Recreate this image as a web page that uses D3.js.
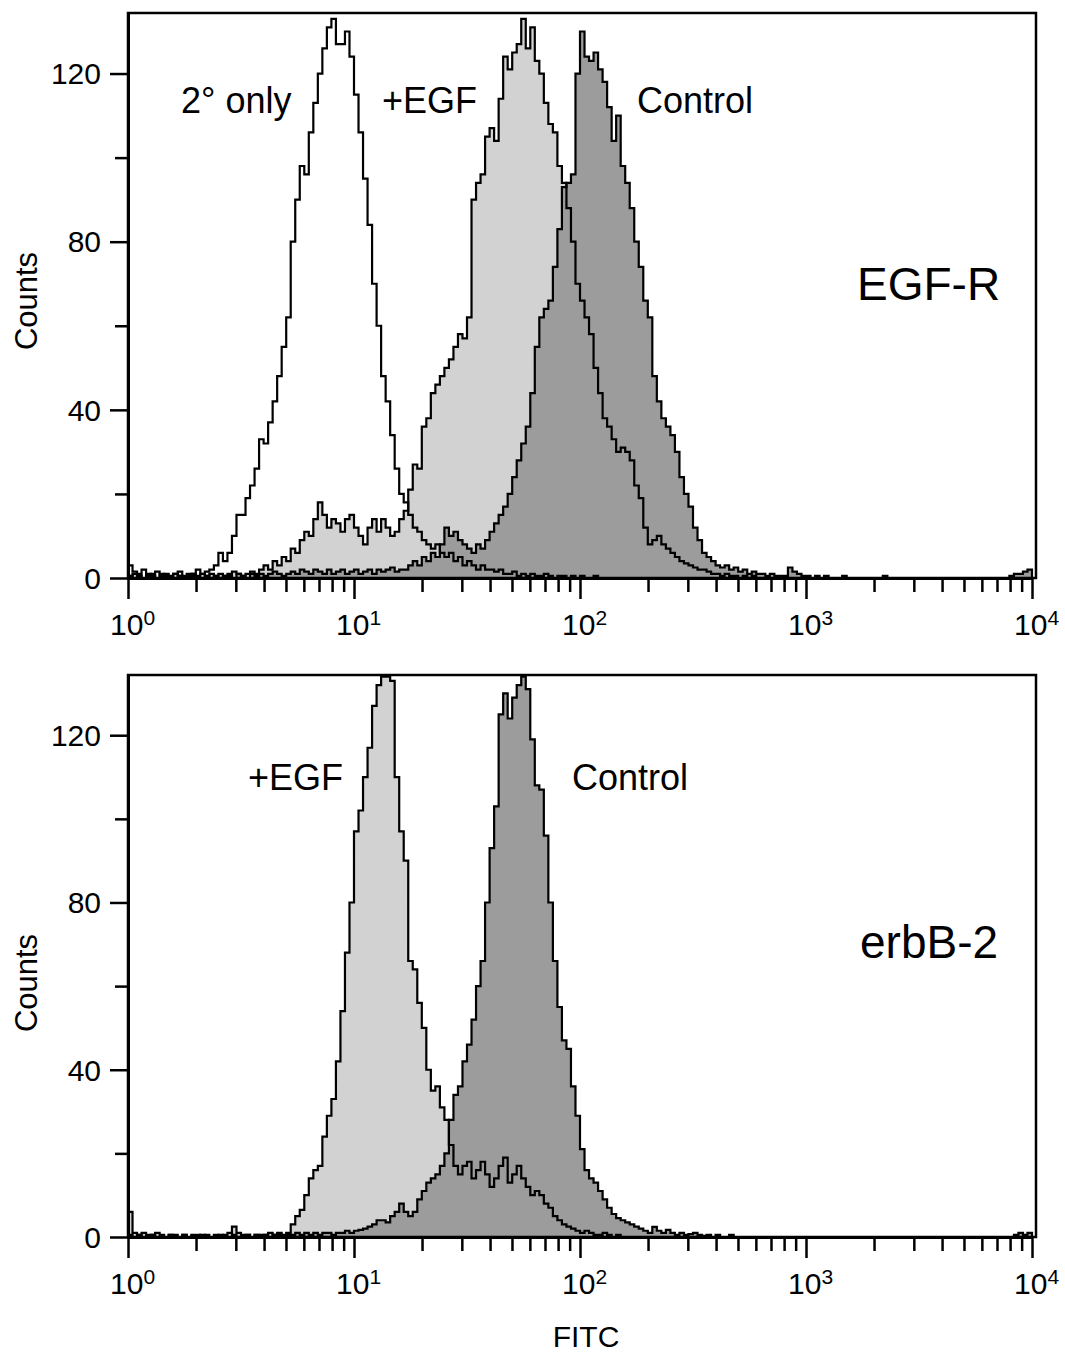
<!DOCTYPE html>
<html><head><meta charset="utf-8">
<script src="https://cdn.jsdelivr.net/npm/d3@7"></script>
<style>body{margin:0;background:#fff}</style>
</head><body>
<svg id="c" width="1065" height="1355"></svg>
<script>
// ---------- DATA ----------
const binStep = 0.02;               // width of one histogram channel, in decades of FITC
const xDecades = [0, 1, 2, 3, 4];   // 10^0 … 10^4
const yTickValues = [0, 20, 40, 60, 80, 100, 120];
const yTickLabels = [0, 40, 80, 120];

// EGF-R panel
const egfrSecondary = [
  3,1.5,1,2,0.5,1,1.5,0.5,1,0.5,
  1,1.5,0.5,1,1,2,1,1.5,2,3,
  6,4,6,10,15,15,19,22,26,33,
  32,37,42,48,55,62,80,90,98,96,
  106,113,120,126,131,133,127,127,130,124,
  115,106,95,84,70,60,48,42,34,26,
  20,18,15,12,11,9,8,7,8,6,
  5,6,4,5,3,4,3,2,3,2,
  2,1.5,2,1,1,1.5,0.5,1,0.5,1,
  0.5,0.5,1,0.5,0,0.5,0.5,0,0.5,0,
  0.5,0,0,0.5,0,0,0,0,0,0
];
const egfrEGF = [
  0.5,1,0.5,0,1,0.5,0,1,0.5,0,
  1,0.5,0,0.5,1,0.5,1,0.5,1,0.5,
  1,0.5,1,1.5,1,0.5,1,1.5,1,2,
  3,2,4,3,5,4,7,6,9,11,
  10,14,18,15,12,14,13,11,14,15,
  12,10,8,12,14,11,14,12,10,11,
  14,16,21,27,26,36,38,44,46,48,
  50,52,55,58,57,62,90,94,96,105,
  107,104,114,124,121,125,127,133,126,131,
  123,120,113,108,106,98,94,88,80,70,
  66,62,58,50,44,38,36,33,30,31,
  30,28,22,19,12,8,9,10,8,7,
  6,5,4,3.5,3,2.5,2,2,1.5,1,
  1,0.5,1,0.5,0.5,0,0.5,0,0.5,0
];
const egfrControl = [
  0.5,0,0.5,0,0,0.5,0,0,0.5,0,
  0,0.5,0,0,0.5,0,0,0.5,0,0.5,
  0,0.5,0.5,0,1,0.5,0,1,0.5,1,
  0.5,1,1.5,1,0.5,1,1.5,1,2,1.5,
  1,2,1.5,1,2,1,1.5,2,1,1.5,
  2,1,1.5,2,1,2,1.5,2,2.5,1.5,
  2,2,3,4,3,5,4,6,5,8,
  12,10,11,9,8,7,6,8,7,9,
  11,13,15,17,20,24,28,32,36,44,
  55,62,64,66,74,83,93,94,96,120,
  130,124,123,125,121,118,112,104,110,98,
  94,88,80,74,66,62,48,42,38,36,
  34,30,24,20,17,12,9,6,5,4,
  3,2.5,3,2,2.5,1.5,2,1,1.5,1,
  1,0.5,1,0.5,0.5,0.5,2.5,1.5,1,0.5,
  0.5,0,0.5,0,0.5,0,0,0,0.5,0,
  0,0,0,0,0,0,0,0.5,0,0,
  0,0,0,0,0,0,0,0,0,0,
  0,0,0,0,0,0,0,0,0,0,
  0,0,0,0,0,0.5,1,1,1.5,2
];

// erbB-2 panel
const erbb2EGF = [
  6,1,0.5,1,0.5,0.5,1,0.5,0,0.5,
  0.5,0,0.5,0,0.5,0.5,0,0.5,0,0.5,
  0,0.5,1,2.5,1,0.5,0.5,0,0.5,0.5,
  0.5,1,0.5,1,0.5,1,3,5,6.5,10,
  14,16,17,24,29,33,42,54,68,80,
  97,102,110,117,127,132,134,134,133,110,
  97,90,66,64,56,50,40,35,36,31,
  28,22,17,15,17,18,14,16,18,15,
  12,14,17,19,13,15,17,14,12,10,
  11,10,8,7,5,4,3,2.5,2,1.5,
  1,1.5,1,0.5,0.5,1,0.5,0,0.5,0
];
const erbb2Control = [
  0.5,0,0.5,0,0,0.5,0,0,0,0.5,
  0,0,0.5,0,0,0,0.5,0,0,0,
  0.5,0,0,0.5,0,0,0.5,0,0.5,0,
  0.5,0,0.5,0.5,0,0.5,0.5,1,0.5,1,
  0.5,1,0.5,1,1,0.5,1,1,1.5,1,
  1.5,1.7,2,2.5,3,4,4,3.5,5,6,
  8,6,5,6,9,11,13,14,15,17,
  20,28,34,36,42,46,52,60,66,80,
  93,103,125,130,124,129,132,134,131,119,
  108,107,96,80,66,55,47,45,36,29,
  21,16,14,13,11,9,7,5.5,4.5,4,
  3.5,3,2.5,2,1.5,1,2.4,1.5,1,1.7,
  1,0.5,1,0.5,0.7,1,0.5,0.3,0.5,0,
  0.5,0,0,0.5,0,0,0,0,0,0,
  0,0,0,0,0,0,0,0,0,0,
  0,0,0,0,0,0,0,0,0,0,
  0,0,0,0,0,0,0,0,0,0,
  0,0,0,0,0,0,0,0,0,0,
  0,0,0,0,0,0,0,0,0,0,
  0,0,0,0,0,0,0.5,1,0.5,1
];

// ---------- DRAWING ----------
const FONT = "'Liberation Sans', Arial, Helvetica, sans-serif";
const LIGHT = "#d2d2d2", DARK = "#9c9c9c";
const svg = d3.select("#c");
const left = 128, right = 1036, xEnd = 1032;
const x = d3.scaleLog().domain([1, 1e4]).range([left, xEnd]);

const panels = [
  { id: "p1", top: 13, base: 578, tag: "EGF-R", tagPos: [857, 300],
    series: [
      { values: egfrSecondary, fill: "none" },
      { values: egfrEGF, fill: LIGHT },
      { values: egfrControl, fill: DARK }
    ],
    notes: [["2° only", 181, 113], ["+EGF", 382, 113], ["Control", 637, 113]],
    countsY: 301 },
  { id: "p2", top: 675, base: 1237, tag: "erbB-2", tagPos: [860, 958],
    series: [
      { values: erbb2EGF, fill: LIGHT },
      { values: erbb2Control, fill: DARK }
    ],
    notes: [["+EGF", 248, 790], ["Control", 572, 790]],
    countsY: 983 }
];

panels.forEach(p => {
  const y = d3.scaleLinear().domain([0, 134.4]).range([p.base, p.top]);
  const g = svg.append("g");

  g.append("clipPath").attr("id", "clip" + p.id)
    .append("rect").attr("x", left).attr("y", p.top)
    .attr("width", right - left).attr("height", p.base - p.top);

  const pts = vals => {
    const a = vals.map((v, i) => ({ l: i * binStep, v }));
    a.push({ l: vals.length * binStep, v: vals[vals.length - 1] });
    a.push({ l: vals.length * binStep, v: 0 });
    return a;
  };
  const area = d3.area().curve(d3.curveStepAfter)
    .x(d => x(Math.pow(10, d.l))).y0(y(0)).y1(d => y(d.v));
  const line = d3.line().curve(d3.curveStepAfter)
    .x(d => x(Math.pow(10, d.l))).y(d => y(d.v));

  const plot = g.append("g").attr("clip-path", `url(#clip${p.id})`);
  p.series.forEach(s => {
    if (s.fill !== "none")
      plot.append("path").datum(pts(s.values)).attr("d", area)
        .attr("fill", s.fill).attr("stroke", "none");
  });
  p.series.forEach(s => {
    plot.append("path").datum(pts(s.values)).attr("d", line)
      .attr("fill", "none").attr("stroke", "#000").attr("stroke-width", 2.2)
      .attr("stroke-linejoin", "miter");
  });

  // frame
  g.append("rect").attr("x", left).attr("y", p.top)
    .attr("width", right - left).attr("height", p.base - p.top)
    .attr("fill", "none").attr("stroke", "#000").attr("stroke-width", 2.5);

  // y axis
  const yAxis = d3.axisLeft(y).tickValues(yTickValues).tickFormat("").tickSizeOuter(0);
  const ya = g.append("g").attr("transform", `translate(${left},0)`).call(yAxis);
  ya.select(".domain").attr("stroke-width", 3);
  ya.selectAll(".tick line").attr("stroke-width", 2.5)
    .attr("x2", d => yTickLabels.includes(d) ? -18 : -13);
  yTickLabels.forEach(v => {
    g.append("text").attr("x", 101).attr("y", y(v)).attr("dy", "0.36em")
      .attr("text-anchor", "end").attr("font-family", FONT).attr("font-size", 30)
      .text(v);
  });

  // x axis with log minor ticks
  const xTicks = [];
  for (let d = 0; d < 4; d++) for (let m = 1; m < 10; m++) xTicks.push(m * Math.pow(10, d));
  xTicks.push(1e4);
  const isDecade = v => Math.abs(Math.log10(v) - Math.round(Math.log10(v))) < 1e-9;
  const xAxis = d3.axisBottom(x).tickValues(xTicks).tickFormat("").tickSizeOuter(0);
  const xa = g.append("g").attr("transform", `translate(0,${p.base})`).call(xAxis);
  xa.select(".domain").attr("stroke-width", 3);
  xa.selectAll(".tick line").attr("stroke-width", 2.5)
    .attr("y2", d => isDecade(d) ? 21 : 14);
  xDecades.forEach(e => {
    const t = g.append("text").attr("x", x(Math.pow(10, e)) - 18).attr("y", p.base + 57)
      .attr("font-family", FONT).attr("font-size", 30);
    t.append("tspan").text("10");
    t.append("tspan").attr("font-size", 21).attr("dy", -10).text(e);
  });

  // Counts label
  g.append("text").attr("transform", `translate(37,${p.countsY}) rotate(-90)`)
    .attr("text-anchor", "middle").attr("font-family", FONT).attr("font-size", 31)
    .text("Counts");

  // annotations
  p.notes.forEach(([t, nx, ny]) => {
    g.append("text").attr("x", nx).attr("y", ny).attr("font-family", FONT)
      .attr("font-size", 36).text(t);
  });
  g.append("text").attr("x", p.tagPos[0]).attr("y", p.tagPos[1])
    .attr("font-family", FONT).attr("font-size", 46).text(p.tag);
});

svg.append("text").attr("x", 586).attr("y", 1347).attr("text-anchor", "middle")
  .attr("font-family", FONT).attr("font-size", 30).text("FITC");
</script>
</body></html>
